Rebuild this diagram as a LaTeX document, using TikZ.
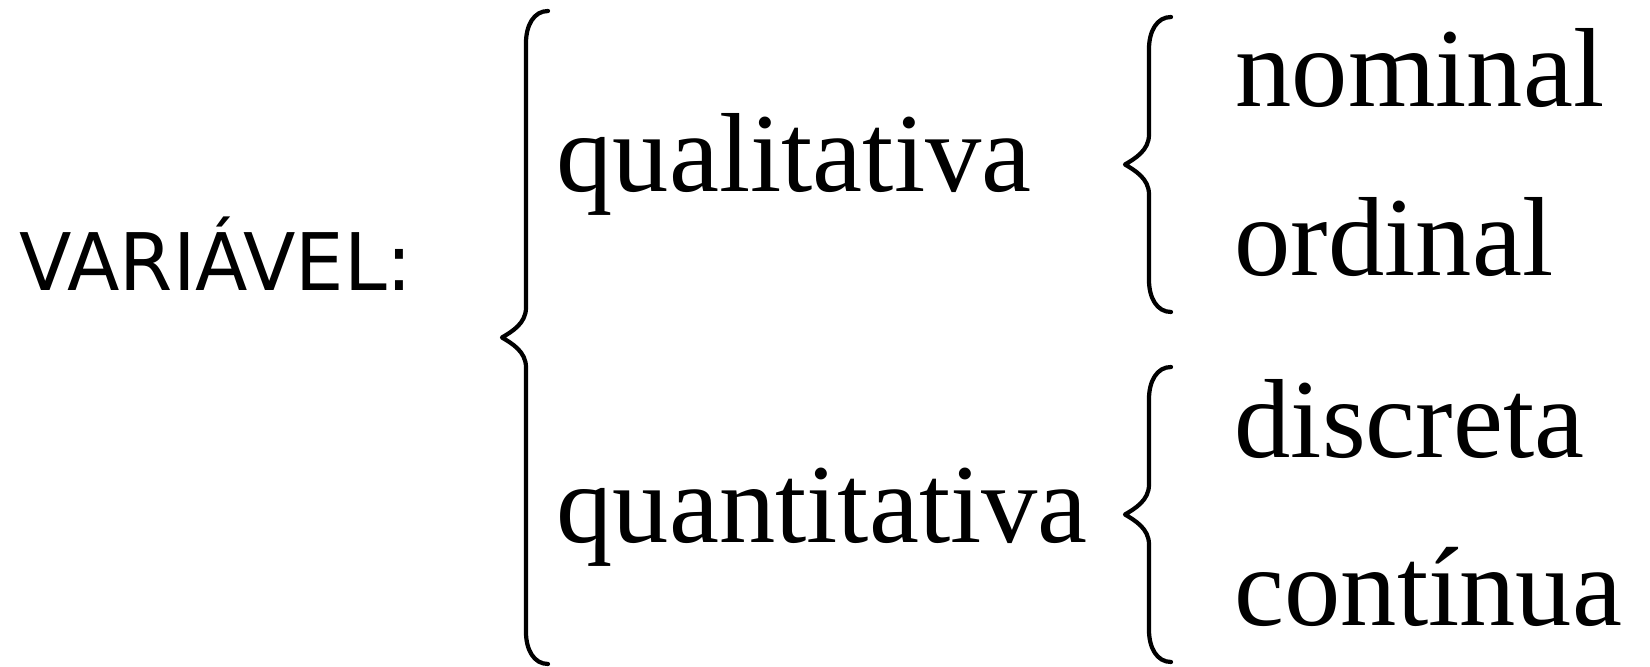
\documentclass[tikz,border=0pt]{standalone}
\usepackage{fontspec}
\setmainfont{Liberation Serif}
\newfontfamily\rotulofont[FakeStretch=0.965]{DejaVu Sans}
\usetikzlibrary{calc}

\begin{document}
\begin{tikzpicture}[
    termo/.style={anchor=base west,inner sep=0pt,
                  font=\fontsize{32}{38}\selectfont},
    rotulo/.style={anchor=base west,inner sep=0pt,
                   font=\rotulofont\fontsize{22.6}{27}\selectfont},
    chave/.style={line width=1.2pt,line cap=round,line join=round}]

    \useasboundingbox (0,0) rectangle (16.5,-6.67);

    \node[rotulo] (var) at (0.19,-2.91) {VARIÁVEL:};

    \node[termo] (quali)  at (5.56,-1.92) {qualitativa};
    \node[termo] (quanti) at (5.56,-5.43) {quantitativa};

    \node[termo] (nom)  at (12.35,-1.07) {nominal};
    \node[termo] (ord)  at (12.34,-2.76) {ordinal};
    \node[termo] (disc) at (12.34,-4.58) {discreta};
    \node[termo] (cont) at (12.34,-6.26) {contínua};

    % pontas das chaves
    \coordinate (gt) at (5.48,-0.11);  \coordinate (gb) at (5.48,-6.64);
    \coordinate (at) at (11.71,-0.17); \coordinate (ab) at (11.71,-3.12);
    \coordinate (bt) at (11.71,-3.67); \coordinate (bb) at (11.71,-6.62);

    \foreach \t/\b in {gt/gb,at/ab,bt/bb} {
      \draw[chave] (\t) .. controls +(-0.14,0) and +(0,0.18) .. ($(\t)+(-0.22,-0.32)$)
        -- ($(\t)!0.5!(\b)+(-0.22,0.3)$)
        .. controls +(0,-0.16) and +(0.1,0.06) .. ($(\t)!0.5!(\b)+(-0.46,0)$)
        .. controls +(0.1,-0.06) and +(0,0.16) .. ($(\t)!0.5!(\b)+(-0.22,-0.3)$)
        -- ($(\b)+(-0.22,0.32)$)
        .. controls +(0,-0.18) and +(-0.14,0) .. (\b);
    }
\end{tikzpicture}
\end{document}
